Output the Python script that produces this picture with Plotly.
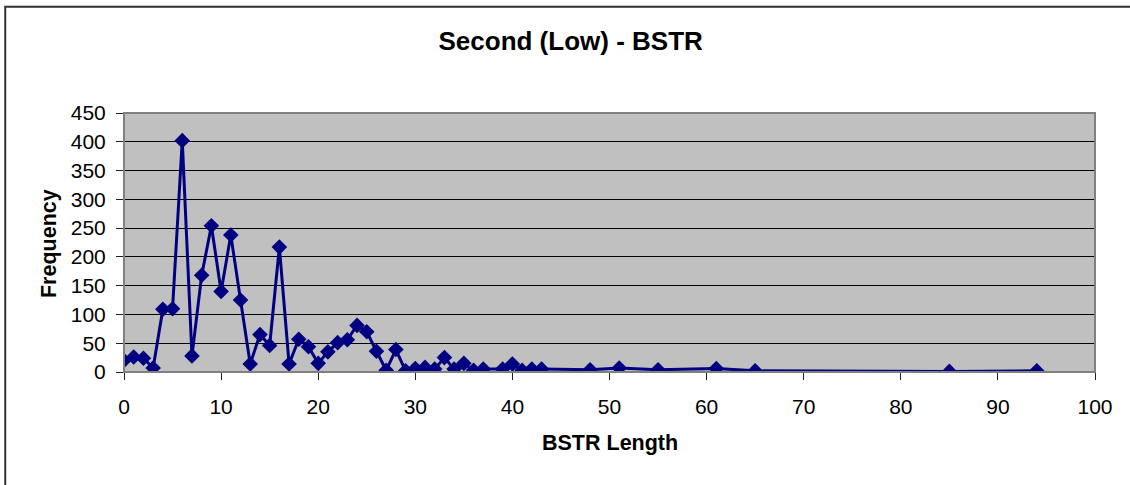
import plotly.graph_objects as go

bstr_length = [0, 1, 2, 3, 4, 5, 6, 7, 8, 9, 10, 11, 12, 13, 14, 15, 16, 17, 18, 19,
               20, 21, 22, 23, 24, 25, 26, 27, 28, 29, 30, 31, 32, 33, 34, 35, 36, 37,
               39, 40, 41, 42, 43, 48, 51, 55, 61, 65, 85, 94]
frequency = [20, 26, 24, 7, 109, 110, 402, 28, 168, 254, 140, 238, 125, 14, 65, 46, 217, 14, 57, 44,
             15, 35, 51, 56, 81, 70, 36, 3, 39, 2, 6, 8, 5, 25, 5, 15, 3, 5,
             5, 14, 3, 5, 5, 4, 7, 4, 6, 2, 1, 2]

x_ticks = [0, 10, 20, 30, 40, 50, 60, 70, 80, 90, 100]
y_ticks = [0, 50, 100, 150, 200, 250, 300, 350, 400, 450]

FONT = "Liberation Sans, Arial, sans-serif"

fig = go.Figure()
fig.add_trace(go.Scatter(
    x=bstr_length, y=frequency, mode="lines+markers",
    line=dict(color="#000080", width=3),
    marker=dict(symbol="diamond", size=12, color="#000080"),
    showlegend=False, hoverinfo="x+y",
))

fig.update_layout(
    width=1130, height=485,
    margin=dict(l=124, r=35, t=113, b=113),
    paper_bgcolor="white", plot_bgcolor="#C0C0C0",
    font=dict(family=FONT, color="black", size=21),
    title=dict(text="<b>Second (Low) - BSTR</b>", x=0.505, xanchor="center",
               y=1 - 41 / 485, yanchor="middle", yref="container",
               font=dict(family=FONT, size=26, color="black")),
    xaxis=dict(range=[0, 100], tickvals=x_ticks, ticktext=[str(v) for v in x_ticks],
               showgrid=False, zeroline=False, showline=True, linecolor="#202020", linewidth=1,
               ticks="outside", ticklen=7, tickcolor="#202020", ticklabelstandoff=9,
               tickfont=dict(family=FONT, size=21, color="black")),
    yaxis=dict(range=[0, 450], tickvals=y_ticks, ticktext=[str(v) for v in y_ticks],
               showgrid=True, gridcolor="black", gridwidth=1, zeroline=False,
               showline=True, linecolor="#202020", linewidth=1,
               ticks="outside", ticklen=7, tickcolor="#202020", ticklabelstandoff=6,
               tickfont=dict(family=FONT, size=21, color="black")),
    shapes=[
        dict(type="rect", xref="paper", yref="paper", x0=0, x1=1, y0=0, y1=1,
             line=dict(color="#808080", width=2), fillcolor="rgba(0,0,0,0)", layer="above"),
        dict(type="rect", xref="paper", yref="paper", x0=-0.1223, x1=1.045, y0=-0.46, y1=1.41,
             line=dict(color="#303030", width=2), fillcolor="rgba(0,0,0,0)"),
    ],
    annotations=[
        dict(text="<b>BSTR Length</b>", xref="paper", yref="paper", x=0.5, y=-0.275,
             xanchor="center", yanchor="middle", showarrow=False,
             font=dict(family=FONT, size=21.5, color="black")),
        dict(text="<b>Frequency</b>", xref="paper", yref="paper", x=-0.077, y=0.495,
             xanchor="center", yanchor="middle", textangle=-90, showarrow=False,
             font=dict(family=FONT, size=21.5, color="black")),
    ],
)

fig.write_html("out.html")
